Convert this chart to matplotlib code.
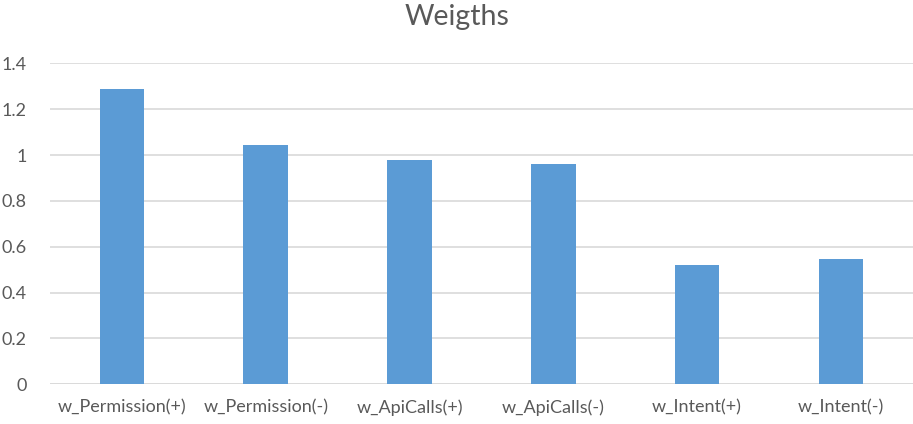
import matplotlib.pyplot as plt

categories = ["w_Permission(+)", "w_Permission(-)", "w_ApiCalls(+)",
              "w_ApiCalls(-)", "w_Intent(+)", "w_Intent(-)"]
weights = [1.288, 1.045, 0.978, 0.961, 0.520, 0.546]
yticks = [0, 0.2, 0.4, 0.6, 0.8, 1, 1.2, 1.4]
ytick_labels = ["0", "0.2", "0.4", "0.6", "0.8", "1", "1.2", "1.4"]

plt.rcParams['font.family'] = ['Lato', 'DejaVu Sans']

fig = plt.figure(figsize=(9.13, 4.24), dpi=100)
ax = fig.add_axes([0.0548, 0.0936, 0.945, 0.7571])

x = range(len(categories))
ax.bar(x, weights, width=0.31, color="#5B9BD5", zorder=3)

ax.set_xlim(-0.5, len(categories) - 0.5)
ax.set_ylim(0, 1.4)
ax.set_yticks(yticks)
ax.set_yticklabels(ytick_labels)
ax.set_xticks(list(x))
ax.set_xticklabels(categories)

ax.grid(axis="y", color="#D9D9D9", linewidth=1.2, zorder=0)
for s in ["top", "right", "left", "bottom"]:
    ax.spines[s].set_visible(False)
ax.tick_params(axis="both", length=0, colors="#595959", labelsize=13)
ax.tick_params(axis="y", pad=17)
ax.tick_params(axis="x", pad=11)
ax.axhline(0, color="#D9D9D9", linewidth=1.2, zorder=2)

fig.suptitle("Weigths", y=0.99, fontsize=20.5, color="#595959")

fig.savefig("out.png", dpi=100)
